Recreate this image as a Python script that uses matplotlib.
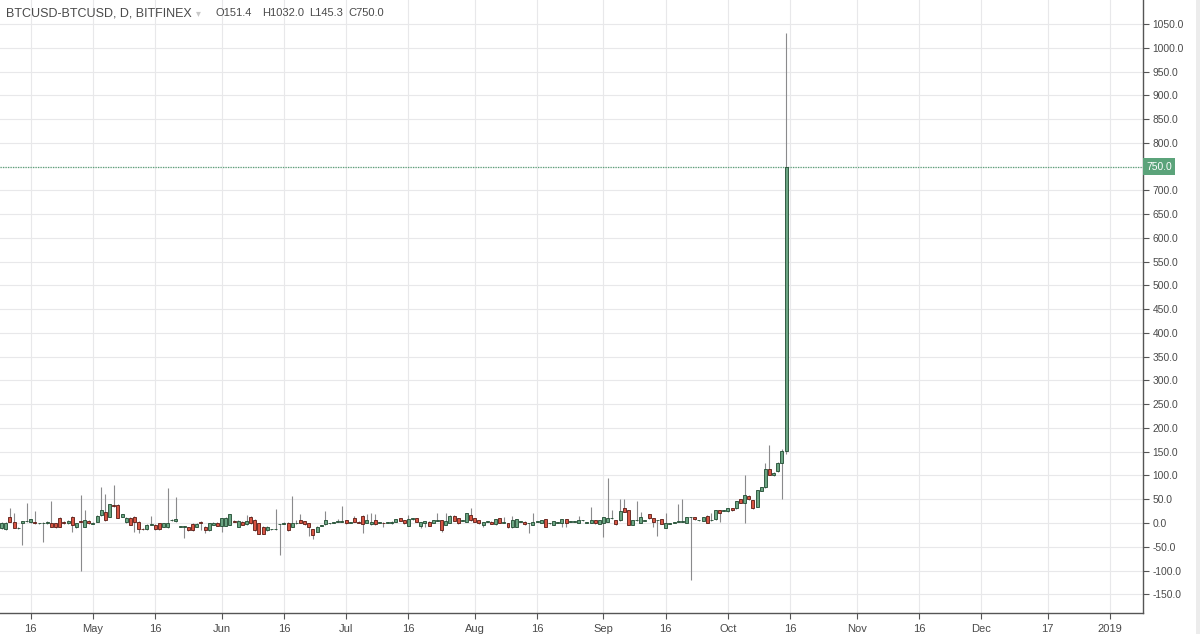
import numpy as np
import pandas as pd
import matplotlib
matplotlib.use("Agg")
import matplotlib.pyplot as plt
import matplotlib.dates as mdates
import matplotlib.transforms as mtransforms
from matplotlib.patches import Rectangle

# daily candles, Bitfinex BTCUSD-BTCUSD, 2018-04-09 .. 2018-10-15
opens = [
    # Apr 9-30
    -10, -12, 12, 3, -11, 1, 4, 3, 3, -1, -1, -1, -1, -1, 10, 3, -1, 13, -9, 3, -8, 5,
    # May
    -2, 3, 17, 24, 13, 37, 38, 13, 3, 10, 12, 3, -12, -13, -4, -4, -1, -8, -9, 6, 4, -8,
    -8, -9, -2, -8, 3, -8, -15, -4, 1,
    # Jun
    -6, -6, -4, 5, -8, 3, -3, 13, 6, -1, -8, -15, -13, -13, -3, -2, 1, -8, -1, 6, 4, -1,
    -13, -18, -6, -3, -1, 1, 3, 3,
    # Jul
    6, 1, 10, 3, 15, 1, -3, 6, 1, 1, 1, -1, 3, 10, 6, -6, 8, 10, -6, -1, 3, 1, 5, 6, -4,
    1, 15, 10, 5, 3, 17,
    # Aug
    10, 6, -4, 3, 3, -3, 10, 1, -1, -9, -8, 3, 3, -1, -4, 3, 1, 8, -1, -4, 1, 1, 8, 3, 3,
    1, 6, 1, 1, 6, -2,
    # Sep
    -1, 3, 10, 6, 6, 31, 27, -4, 6, 1, 5, 18, 10, 6, 8, -10, -2, 1, 3, 3, 1, 12, 12, 6, 5,
    15, 6, 8, 27, 26,
    # Oct 1-15
    25, 31, 31, 50, 43, 57, 48, 34, 68, 75, 113, 100, 109, 127, 151.4,
]
highs = [
    2, 3, 31, 20, -9, 4, 43, 8, 25, 0, 2, 4, 47, 1, 12, 5, 6, 15, -1, 59, 27, 6,
    2, 16, 76, 62, 40, 80, 41, 19, 12, 12, 14, 5, -10, -3, 15, -3, 1, 0, 73, 8, 55, -7,
    -6, -8, -1, -1, 4, -7, -1, 2, 2,
    10, 12, 18, 6, 6, 4, 17, 15, 8, 0, -6, -7, -12, 29, -2, 3, 2, 57, 6, 18, 5, 0,
    -12, -7, -5, 25, 0, 2, 8, 36,
    7, 2, 15, 4, 16, 18, 20, 18, 2, 2, 2, 4, 9, 11, 7, 17, 10, 11, 3, 5, 4, 7, 20, 7, 20,
    16, 16, 11, 6, 21, 32,
    11, 7, 3, 4, 4, 8, 11, 12, 0, 15, 8, 4, 4, 0, 22, 4, 7, 9, 0, 5, 2, 8, 9, 4, 4,
    15, 7, 2, 34, 7, 7,
    12, 94, 27, 7, 51, 50, 28, 6, 46, 24, 6, 19, 11, 7, 9, 22, -1, 2, 41, 51, 13, 13, 13, 7, 12,
    16, 22, 27, 28, 27,
    31, 32, 46, 51, 101, 58, 49, 70, 76, 127, 164, 108, 128, 156, 1032.0,
]
lows = [
    -12, -14, 2, -11, -12, -46, 2, 1, -2, -2, -41, -2, -9, -10, -9, -2, -3, -18, -10, -102, -9, -2,
    -3, 2, 15, 5, 12, 34, 10, 12, 1, -5, -18, -20, -14, -14, -5, -14, -14, -9, -10, 5, 2, -9,
    -32, -16, -16, -9, -15, -22, -16, -5, -7,
    -18, -7, -5, 2, -9, -5, -4, -2, -16, -24, -24, -16, -14, -14, -67, -3, -16, -9, -2, 0, -4, -27,
    -34, -19, -7, -4, -2, 0, 2, 2,
    -2, 0, 2, 0, -20, 0, -4, -4, 0, -9, 0, -2, 2, 4, -2, -7, 7, 2, -10, -9, -7, 0, 4, -18, -5,
    0, 4, -2, 4, 2, 5,
    2, -2, -8, 2, -3, -4, 0, 0, -10, -10, -9, 2, -4, -20, -5, 2, 0, -8, -2, -5, 0, -9, -8, 2, 2,
    0, 5, 0, 0, -2, -3,
    -29, 2, 9, -4, 5, 23, -5, -5, 5, 0, 4, 9, -8, -27, -3, -11, -3, 0, 2, 2, 0, -120, 7, 5, 4,
    0, 5, 7, 3, 25,
    24, 26, 30, 42, -1, 49, 30, 33, 67, 74, 100, 99, 108, 50, 145.3,
]
closes = [
    0, 1, 3, -11, -11, 4, 5, 8, -1, -1, 1, 3, -8, -9, -8, 1, 5, -4, -1, 2, 6, -1,
    1, 15, 27, 6, 39, 36, 11, 18, 10, -4, 3, -13, -13, -4, -3, -13, -13, -1, -1, 6, 8, -8,
    -8, -15, -15, -2, -1, -15, -1, 1, -6,
    10, 11, 18, 3, 5, -4, 5, -1, -15, -23, -23, -8, -13, -13, -3, -1, -15, 1, -1, 1, -3, -8,
    -25, -8, -6, 6, -1, 1, 3, 4,
    -1, 1, 3, 1, -3, 6, 3, -3, 1, -1, 1, 3, 8, 5, -1, 8, 10, 3, 3, 5, -6, 6, 5, -15, 5,
    15, 5, -1, 5, 20, 6,
    3, -1, 3, 3, -2, 8, 1, 3, -9, 6, 8, 3, -3, -1, 3, 3, 6, -8, -1, 4, 1, 8, 1, 3, 3,
    6, 6, 1, 6, -1, 6,
    12, 10, 10, -3, 25, 24, -4, 6, 6, 12, 5, 10, 3, 6, -2, -1, -2, 1, 3, 3, 13, 12, 8, 6, 12,
    1, 6, 27, 20, 26,
    31, 27, 46, 43, 59, 50, 31, 69, 75, 113, 101, 106, 127, 151, 750.0,
]

dates = pd.date_range("2018-04-09", periods=len(opens), freq="D")
last_close = closes[-1]

y_ticks = np.arange(-150, 1051, 50)
x_ticks = pd.to_datetime([
    "2018-04-16", "2018-05-01", "2018-05-16", "2018-06-01", "2018-06-16",
    "2018-07-01", "2018-07-16", "2018-08-01", "2018-08-16", "2018-09-01",
    "2018-09-16", "2018-10-01", "2018-10-16", "2018-11-01", "2018-11-16",
    "2018-12-01", "2018-12-17", "2019-01-01",
])
x_labels = ["16", "May", "16", "Jun", "16", "Jul", "16", "Aug", "16", "Sep",
            "16", "Oct", "16", "Nov", "16", "Dec", "17", "2019"]

up_fill, up_edge = "#6ba583", "#1f4a30"
dn_fill, dn_edge = "#d75442", "#5b1a13"
wick_col = "#8a8a8c"
text_col = "#4a4a4a"
last_col = "#5ba37a"

plt.rcParams["font.family"] = ["Liberation Sans", "DejaVu Sans"]

fig = plt.figure(figsize=(12, 6.34), dpi=100)
ax = fig.add_axes([0.0, 21 / 634, 1143 / 1200, 613 / 634])

o = np.array(opens, float)
h = np.array(highs, float)
l = np.array(lows, float)
c = np.array(closes, float)
x = mdates.date2num(dates)
up = c >= o

# wicks
ax.vlines(x, np.minimum(l, np.minimum(o, c)), np.maximum(h, np.maximum(o, c)),
          color=wick_col, lw=0.8, zorder=2)

# bodies
bottom = np.minimum(o, c)
height = np.maximum(np.abs(c - o), 1.2)
ax.bar(x[up], height[up], bottom=bottom[up], width=0.72, color=up_fill,
       edgecolor=up_edge, linewidth=0.6, zorder=3)
ax.bar(x[~up], height[~up], bottom=bottom[~up], width=0.72, color=dn_fill,
       edgecolor=dn_edge, linewidth=0.6, zorder=3)

# last price line + label
ax.axhline(last_close, color=last_col, lw=0.9, linestyle=(0, (1, 1.0)), zorder=1)
trans = mtransforms.blended_transform_factory(ax.transAxes, ax.transData)
ax.text(1.003, last_close, f"{last_close:.1f}", transform=trans, ha="left", va="center",
        fontsize=7.4, color="white", clip_on=False, zorder=5,
        bbox=dict(boxstyle="square,pad=0.32", facecolor=last_col, edgecolor="none"))

ax.set_xlim(mdates.date2num(pd.Timestamp("2018-04-09")) - 0.4,
            mdates.date2num(pd.Timestamp("2018-04-09")) + 275.0)
ax.set_ylim(-189.4, 1100.6)

ax.set_yticks(y_ticks)
ax.set_yticklabels(["" if v == last_close else f"{v:.1f}" for v in y_ticks])
ax.yaxis.tick_right()
ax.set_xticks(mdates.date2num(x_ticks))
ax.set_xticklabels(x_labels)

ax.tick_params(axis="y", length=4, width=0.8, color="#555555", labelsize=7.4,
               labelcolor=text_col, pad=3)
ax.tick_params(axis="x", length=4, width=0.8, color="#555555", labelsize=8,
               labelcolor=text_col, pad=4)

ax.grid(True, color="#e8e8ea", lw=0.8, zorder=0)
ax.set_axisbelow(True)
for side in ["left", "top"]:
    ax.spines[side].set_visible(False)
for side in ["right", "bottom"]:
    ax.spines[side].set_color("#555555")
    ax.spines[side].set_linewidth(1.0)

# thin grey strip at the right edge
fig.patches.append(Rectangle((1196 / 1200, 0), 4 / 1200, 1, transform=fig.transFigure,
                             facecolor="#ececec", edgecolor="none"))

# header
ty = 1 - 13 / 634
fig.text(6 / 1200, ty, "BTCUSD-BTCUSD, D, BITFINEX", fontsize=9, color=text_col,
         va="center", ha="left")
fig.text(196 / 1200, ty, "\u25be", fontsize=7, color="#c8c8c8", va="center", ha="left",
         family=["DejaVu Sans"])
fig.text(215 / 1200, ty, f"O{o[-1]:.1f}", fontsize=8.0, color=text_col, va="center")
fig.text(262 / 1200, ty, f"H{h[-1]:.1f}", fontsize=8.0, color=text_col, va="center")
fig.text(309 / 1200, ty, f"L{l[-1]:.1f}", fontsize=8.0, color=text_col, va="center")
fig.text(348 / 1200, ty, f"C{c[-1]:.1f}", fontsize=8.0, color=text_col, va="center")

fig.savefig("out.png", dpi=100)
